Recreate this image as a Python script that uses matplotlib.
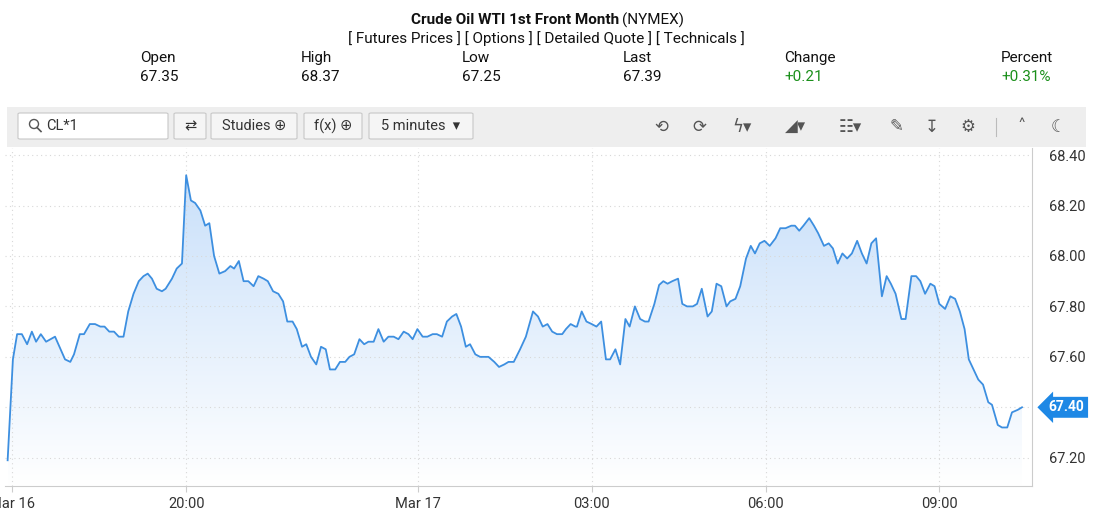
import matplotlib
matplotlib.use("Agg")
import matplotlib.pyplot as plt
import numpy as np
from matplotlib.patches import FancyBboxPatch, Rectangle, Polygon, Ellipse
from matplotlib.colors import LinearSegmentedColormap

# chart position: 1.1 units per trading hour, 0 = Mar 16 20:00
times = [-3.39,-3.29,-3.21,-3.12,-3.02,-2.93,-2.85,-2.76,-2.66,-2.49,-2.30,-2.20,-2.13,-2.02,-1.94,-1.83,-1.73,-1.63,-1.55,-1.46,
 -1.37,-1.28,-1.19,-1.10,-1.00,-0.90,-0.81,-0.73,-0.65,-0.56,-0.46,-0.39,-0.27,-0.18,-0.08,0.00,0.09,0.17,0.27,0.36,
 0.44,0.53,0.63,0.74,0.84,0.91,1.00,1.09,1.18,1.28,1.37,1.47,1.55,1.65,1.75,1.84,1.92,2.02,2.10,2.20,
 2.28,2.37,2.47,2.56,2.65,2.73,2.83,2.92,3.02,3.10,3.19,3.29,3.38,3.46,3.56,3.65,3.75,3.84,3.94,4.03,
 4.13,4.22,4.30,4.39,4.49,4.58,4.68,4.76,4.86,4.95,5.05,5.13,5.22,5.31,5.39,5.49,5.58,5.74,5.85,5.94,
 6.04,6.12,6.22,6.34,6.45,6.585,6.68,6.77,6.86,6.95,7.04,7.14,7.21,7.30,7.39,7.42,7.51,7.60,7.70,7.79,
 7.88,7.97,8.05,8.15,8.24,8.34,8.42,8.52,8.62,8.71,8.78,8.89,8.98,9.06,9.14,9.23,9.34,9.42,9.51,9.62,
 9.70,9.79,9.90,9.98,10.07,10.16,10.26,10.33,10.43,10.52,10.63,10.72,10.80,10.89,10.98,11.08,11.19,11.28,11.38,11.49,
 11.56,11.64,11.72,11.83,11.92,12.00,12.11,12.20,12.28,12.37,12.46,12.55,12.64,12.74,12.83,12.92,13.01,13.10,13.21,13.30,
 13.38,13.47,13.58,13.66,13.77,13.86,13.94,14.03,14.13,14.21,14.30,14.41,14.51,14.60,14.69,14.78,14.86,14.95,15.04,15.13,
 15.23,15.30,15.41,15.49,15.59,15.68,15.79,15.87]
prices = [67.19,67.59,67.69,67.69,67.65,67.70,67.66,67.69,67.66,67.68,67.59,67.58,67.61,67.69,67.69,67.73,67.73,67.72,67.72,67.70,
 67.70,67.68,67.68,67.78,67.85,67.90,67.92,67.93,67.91,67.87,67.86,67.87,67.91,67.95,67.97,68.32,68.22,68.21,68.18,68.12,
 68.13,68.00,67.93,67.94,67.96,67.95,67.98,67.90,67.90,67.88,67.92,67.91,67.90,67.86,67.85,67.82,67.74,67.74,67.71,67.64,
 67.65,67.60,67.57,67.64,67.63,67.55,67.55,67.58,67.58,67.60,67.61,67.67,67.65,67.66,67.66,67.71,67.66,67.68,67.68,67.67,
 67.70,67.69,67.67,67.71,67.68,67.68,67.69,67.69,67.68,67.74,67.76,67.77,67.72,67.64,67.65,67.61,67.60,67.60,67.58,67.56,
 67.57,67.58,67.58,67.63,67.68,67.78,67.76,67.72,67.73,67.70,67.69,67.69,67.71,67.73,67.72,67.72,67.78,67.74,67.73,67.72,
 67.74,67.59,67.59,67.63,67.57,67.75,67.72,67.80,67.75,67.74,67.74,67.81,67.885,67.90,67.89,67.90,67.91,67.81,67.80,67.80,
 67.81,67.87,67.76,67.78,67.89,67.88,67.80,67.82,67.83,67.88,67.99,68.04,68.01,68.05,68.06,68.04,68.07,68.11,68.11,68.12,
 68.12,68.10,68.12,68.15,68.12,68.09,68.04,68.05,68.03,67.97,68.01,67.99,68.01,68.06,68.01,67.97,68.05,68.07,67.84,67.92,
 67.89,67.85,67.75,67.75,67.92,67.92,67.90,67.85,67.89,67.88,67.81,67.79,67.84,67.83,67.78,67.71,67.59,67.55,67.51,67.49,
 67.42,67.41,67.33,67.32,67.32,67.38,67.39,67.40]
tick_pos = [-3.30, 0.0, 4.40, 7.70, 11.00, 14.30]
tick_labels = ["Mar 16", "20:00", "Mar 17", "03:00", "06:00", "09:00"]
y_ticks = [67.20, 67.40, 67.60, 67.80, 68.00, 68.20, 68.40]
last_price = 67.40
stat_labels = ["Open", "High", "Low", "Last", "Change", "Percent"]
stat_values = ["67.35", "68.37", "67.25", "67.39", "+0.21", "+0.31%"]

FAM = ["Roboto", "DejaVu Sans"]
W, H = 1093, 511
fig = plt.figure(figsize=(W/100, H/100), dpi=100)
fig.patch.set_facecolor("white")
def fx(px): return px / W
def fy(py): return 1 - py / H

# header
fig.text(fx(619), fy(20), "Crude Oil WTI 1st Front Month", ha="right", va="center",
         fontsize=11, fontweight="bold", family=FAM, color="#111")
fig.text(fx(622), fy(20), "(NYMEX)", ha="left", va="center", fontsize=11, family=FAM, color="#111")
fig.text(fx(546), fy(39), "[ Futures Prices ] [ Options ] [ Detailed Quote ] [ Technicals ]",
         ha="center", va="center", fontsize=11, family=FAM, color="#111")
xs = [140, 301, 462, 623, 784, 1001]
for i, (lab, val) in enumerate(zip(stat_labels, stat_values)):
    col = "#1a8f1a" if i >= 4 else "#111"
    fig.text(fx(xs[i]), fy(58), lab, ha="left", va="center", fontsize=11, family=FAM, color="#111")
    fig.text(fx(xs[i]), fy(77), val, ha="left", va="center", fontsize=11, family=FAM, color=col)

# toolbar
fig.patches.append(Rectangle((fx(7), fy(147)), fx(1079), 40/H, transform=fig.transFigure,
                             facecolor="#eeeeee", edgecolor="none"))
def box(x0, x1, text, white=False):
    fig.patches.append(FancyBboxPatch((fx(x0), fy(139)), fx(x1 - x0), 26/H, transform=fig.transFigure,
                       boxstyle="round,pad=0,rounding_size=0.002", facecolor="white" if white else "#f5f5f5",
                       edgecolor="#c8c8c8", lw=0.8))
    if white:
        fig.text(fx(x0 + 28), fy(126), text, ha="left", va="center", fontsize=10.5, family=FAM, color="#333")
    else:
        fig.text(fx((x0 + x1) / 2), fy(126), text, ha="center", va="center", fontsize=10.5, family=FAM, color="#333")
box(18, 168, "CL*1", white=True)
fig.patches.append(Ellipse((fx(34), fy(124)), 9/W, 9/H, transform=fig.transFigure, fill=False, ec="#555", lw=1))
fig.add_artist(plt.Line2D([fx(37), fx(41)], [fy(127.5), fy(131.5)], color="#555", lw=1.2, transform=fig.transFigure))
box(174, 206, "\u21C4")
box(211, 297, "Studies \u2295")
box(304, 362, "f(x) \u2295")
box(369, 473, "5 minutes  \u25BE")
for px, s in [(661, "\u27F2"), (699, "\u27F3"), (742, "\u03DF\u25BE"), (796, "\u25E2\u25BE"), (850, "\u2637\u25BE"),
              (896, "\u270E"), (932, "\u21A7"), (968, "\u2699"), (1022, "\u02C4"), (1058, "\u263E")]:
    fig.text(fx(px), fy(127), s, ha="center", va="center", fontsize=12, color="#555", family=FAM)
fig.add_artist(plt.Line2D([fx(996), fx(996)], [fy(118), fy(136)], color="#bbb", lw=0.8, transform=fig.transFigure))

# chart
ax = fig.add_axes([fx(5), fy(486), fx(1032 - 5), (486 - 148) / H])
t = np.array(times); p = np.array(prices)
ymin, ymax = 67.088, 68.428
ax.set_xlim(-3.44, 16.06); ax.set_ylim(ymin, ymax)
grad = np.linspace(0, 1, 256).reshape(-1, 1)
cmap = LinearSegmentedColormap.from_list("g", ["#ffffff", "#c9e0fa"])
im = ax.imshow(grad, extent=[t[0], t[-1], ymin, p.max()], origin="lower", aspect="auto", cmap=cmap, zorder=1)
poly = Polygon(np.column_stack([np.r_[t, t[-1], t[0]], np.r_[p, ymin, ymin]]), closed=True, transform=ax.transData,
               facecolor="none", edgecolor="none")
ax.add_patch(poly); im.set_clip_path(poly)
ax.plot(t, p, color="#3d8fe0", lw=1.3, zorder=3)
ax.set_xticks(tick_pos); ax.set_xticklabels(tick_labels, fontsize=10.5, family=FAM, color="#333")
ax.set_yticks(y_ticks)
ax.yaxis.tick_right()
ax.set_yticklabels(["" if abs(v - last_price) < 1e-9 else f"{v:.2f}" for v in y_ticks],
                   fontsize=10.5, family=FAM, color="#333")
ax.tick_params(axis="x", length=4, color="#ccc", pad=4)
ax.tick_params(axis="y", length=0, pad=12)
ax.grid(True, color="#d8d8d8", ls=(0, (1, 3)), lw=0.8)
for s in ["top", "left"]:
    ax.spines[s].set_visible(False)
for s in ["right", "bottom"]:
    ax.spines[s].set_color("#cccccc")
ax.annotate(f"{last_price:.2f}", xy=(1.0, last_price), xycoords=("axes fraction", "data"),
            xytext=(25, 0), textcoords="offset points", ha="center", va="center",
            fontsize=10, fontweight="bold", color="white", family=FAM,
            bbox=dict(boxstyle="larrow,pad=0.25", fc="#1e88e5", ec="none"))
fig.savefig("out.png", dpi=100)
